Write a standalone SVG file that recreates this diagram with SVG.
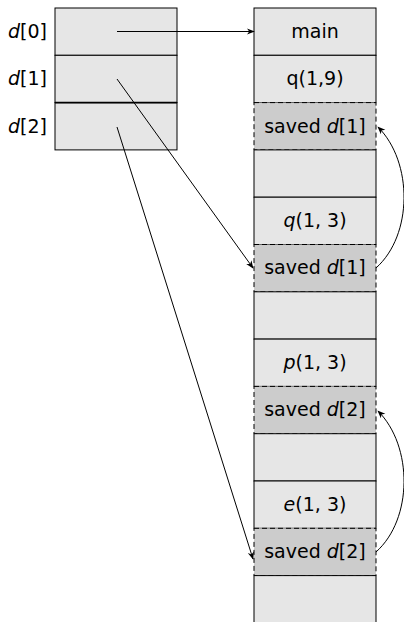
<svg xmlns="http://www.w3.org/2000/svg" width="404" height="622" viewBox="0 0 404 622">
<style>
  .cell { fill: #e6e6e6; stroke: #000; stroke-width: 1; }
  .saved { fill: #cccccc; stroke: #000; stroke-width: 1; stroke-dasharray: 5 3; }
  .lbl { font-family: "DejaVu Sans", "Liberation Sans", sans-serif; font-size: 19px; fill: #000; text-anchor: middle; }
  .side { font-family: "DejaVu Sans", "Liberation Sans", sans-serif; font-size: 19px; fill: #000; text-anchor: end; }
  .it { font-style: italic; }
  .link { fill: none; stroke: #000; stroke-width: 1; marker-end: url(#tip); }
</style>
<defs>
  <marker id="tip" viewBox="0 0 10 10" refX="9" refY="5" markerWidth="8" markerHeight="8" markerUnits="userSpaceOnUse" orient="auto">
    <path d="M0,1 L10,5 L0,9 L3,5 Z" fill="#000"/>
  </marker>
</defs>
<rect width="404" height="622" fill="#fff"/>

<!-- pointer array d -->
<g id="d-array">
  <rect class="cell" x="55" y="8" width="122" height="47.3"/>
  <rect class="cell" x="55" y="55.3" width="122" height="47.3"/>
  <rect class="cell" x="55" y="102.6" width="122" height="47.3"/>
  <line x1="55" y1="102.6" x2="177" y2="102.6" stroke="#000" stroke-width="1.6"/>
  <text class="side" x="47" y="38"><tspan class="it">d</tspan>[0]</text>
  <text class="side" x="47" y="85"><tspan class="it">d</tspan>[1]</text>
  <text class="side" x="47" y="133"><tspan class="it">d</tspan>[2]</text>
</g>

<!-- stack frames -->
<g id="frame-main"><rect class="cell" x="254" y="8" width="122" height="47.3"/><text class="lbl" x="315" y="38">main</text></g>
<g id="frame-q19"><rect class="cell" x="254" y="55.3" width="122" height="47.3"/><text class="lbl" x="315" y="85">q(1,9)</text></g>
<g id="saved-d1-a"><rect class="saved" x="254" y="102.6" width="122" height="47.3"/><text class="lbl" x="315" y="133">saved <tspan class="it">d</tspan>[1]</text></g>
<g id="gap-1"><rect class="cell" x="254" y="149.9" width="122" height="47.3"/></g>
<g id="frame-q13"><rect class="cell" x="254" y="197.2" width="122" height="47.3"/><text class="lbl" x="315" y="227"><tspan class="it">q</tspan>(1, 3)</text></g>
<g id="saved-d1-b"><rect class="saved" x="254" y="244.5" width="122" height="47.3"/><text class="lbl" x="315" y="274">saved <tspan class="it">d</tspan>[1]</text></g>
<g id="gap-2"><rect class="cell" x="254" y="291.8" width="122" height="47.3"/></g>
<g id="frame-p13"><rect class="cell" x="254" y="339.1" width="122" height="47.3"/><text class="lbl" x="315" y="369"><tspan class="it">p</tspan>(1, 3)</text></g>
<g id="saved-d2-a"><rect class="saved" x="254" y="386.4" width="122" height="47.3"/><text class="lbl" x="315" y="416">saved <tspan class="it">d</tspan>[2]</text></g>
<g id="gap-3"><rect class="cell" x="254" y="433.7" width="122" height="47.3"/></g>
<g id="frame-e13"><rect class="cell" x="254" y="481" width="122" height="47.3"/><text class="lbl" x="315" y="511"><tspan class="it">e</tspan>(1, 3)</text></g>
<g id="saved-d2-b"><rect class="saved" x="254" y="528.3" width="122" height="47.3"/><text class="lbl" x="315" y="558">saved <tspan class="it">d</tspan>[2]</text></g>
<g id="gap-4"><rect class="cell" x="254" y="575.6" width="122" height="47.3"/></g>

<!-- pointers and save chains -->
<g id="connectors">
  <path class="link" d="M117,31.5 L254,31.5"/>
  <path class="link" d="M117,79 L253,268"/>
  <path class="link" d="M117,127 L253,559"/>
  <path class="link" d="M376,268 C413,235 413,162 378,127"/>
  <path class="link" d="M376,552 C413,519 413,446 378,411"/>
</g>
</svg>
